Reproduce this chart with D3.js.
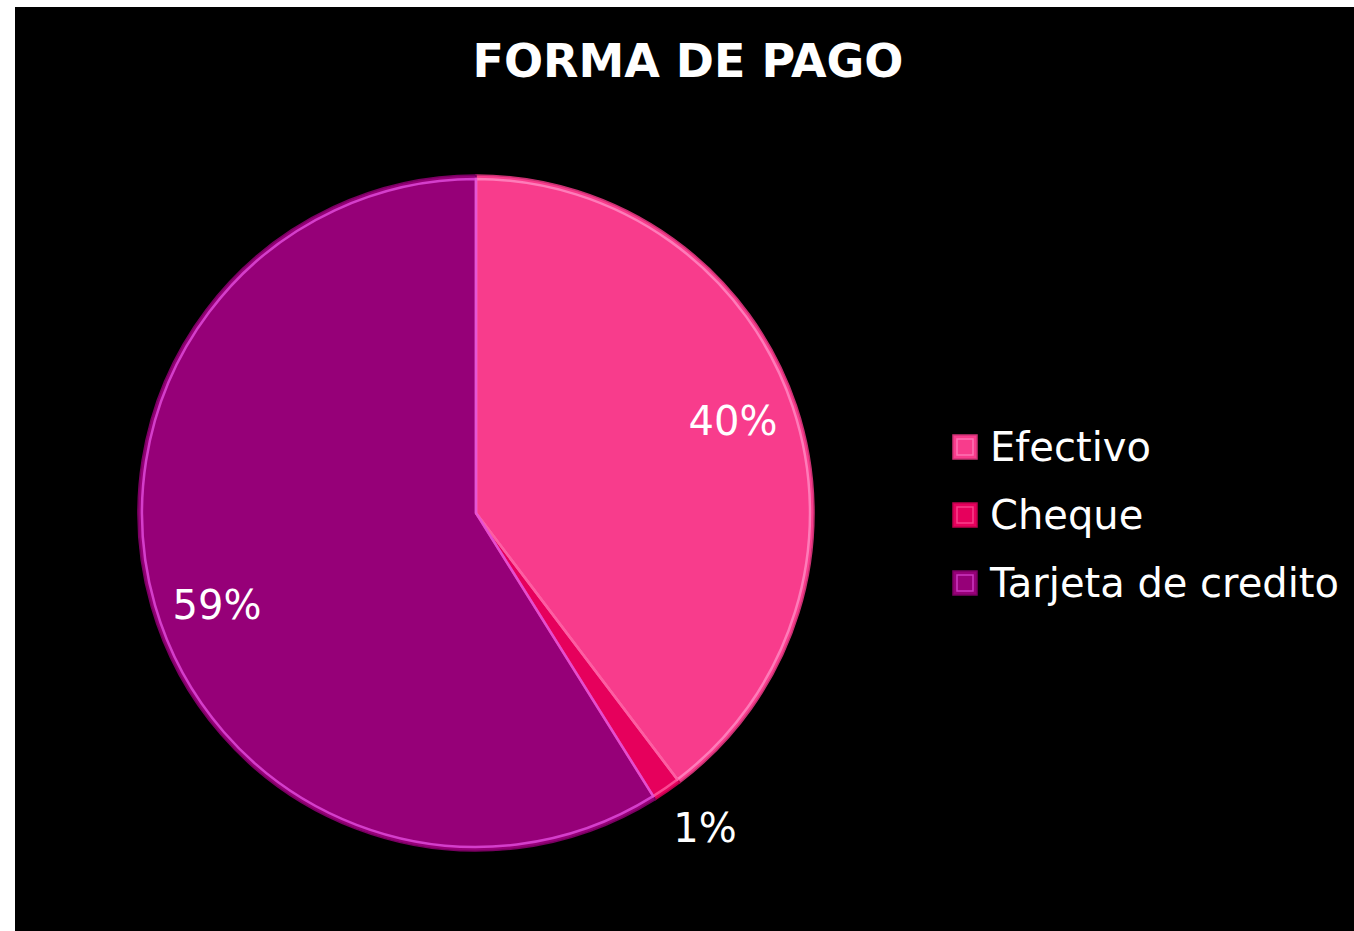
<!DOCTYPE html>
<html>
<head>
<meta charset="utf-8">
<script src="https://cdn.jsdelivr.net/npm/d3@7"></script>
<style>
  body { margin: 0; background: #ffffff; }
  text { font-family: "DejaVu Sans", sans-serif; }
</style>
</head>
<body>
<svg id="chart" width="1354" height="931"></svg>
<script>
const categories = ["Efectivo", "Cheque", "Tarjeta de credito"];
const values = [39.7, 1.4, 58.9];
const colors = ["#f83c8c", "#e6005c", "#960078"];
const lightColors = ["#ff8cc4", "#ff5aa0", "#e44ee0"];
const title = "FORMA DE PAGO";

const svg = d3.select("#chart");
const W = 1354, H = 931;

// black plot area
svg.append("rect")
    .attr("x", 15).attr("y", 7)
    .attr("width", W - 15).attr("height", H - 7)
    .attr("fill", "#000");

svg.append("text")
    .attr("x", 688).attr("y", 77)
    .attr("text-anchor", "middle")
    .attr("fill", "#fff")
    .attr("font-size", "46px")
    .attr("font-weight", "bold")
    .text(title);

const cx = 476, cy = 513, r = 338;
const g = svg.append("g").attr("transform", "translate(" + cx + "," + cy + ")");

const data = categories.map((c, i) => ({ name: c, value: values[i], i: i }));
const total = d3.sum(values);

const pie = d3.pie().value(d => d.value).sort(null);
const arcs = pie(data);
const arc = d3.arc().innerRadius(0).outerRadius(r);
const bevel = d3.arc().innerRadius(0).outerRadius(r - 4);

g.selectAll("path.slice")
    .data(arcs)
    .join("path")
    .attr("class", "slice")
    .attr("d", arc)
    .attr("fill", d => colors[d.data.i])
    .attr("stroke", d => d3.color(colors[d.data.i]).darker(0.6))
    .attr("stroke-width", 1.5);

// soft bevel highlight
g.selectAll("path.bevel")
    .data(arcs)
    .join("path")
    .attr("class", "bevel")
    .attr("d", bevel)
    .attr("fill", "none")
    .attr("stroke", d => lightColors[d.data.i])
    .attr("stroke-width", 2.5)
    .attr("stroke-opacity", 0.8);

// percentage labels (positions as in the original layout)
const labelPos = [
    { x: 733, y: 435 },
    { x: 705, y: 842 },
    { x: 217, y: 619 }
];
svg.selectAll("text.pct")
    .data(arcs)
    .join("text")
    .attr("class", "pct")
    .attr("x", d => labelPos[d.data.i].x)
    .attr("y", d => labelPos[d.data.i].y)
    .attr("text-anchor", "middle")
    .attr("fill", "#fff")
    .attr("font-size", "40px")
    .text(d => Math.round(d.data.value / total * 100) + "%");

// legend
const legend = svg.append("g").attr("transform", "translate(953,435)");
const ly = d3.scalePoint().domain(categories).range([0, 136]);
const item = legend.selectAll("g.item")
    .data(data)
    .join("g")
    .attr("class", "item")
    .attr("transform", d => "translate(0," + ly(d.name) + ")");

item.append("rect")
    .attr("width", 24).attr("height", 24)
    .attr("fill", d => colors[d.i])
    .attr("stroke", d => d3.color(colors[d.i]).darker(0.5))
    .attr("stroke-width", 1.5);
item.append("rect")
    .attr("x", 4).attr("y", 4)
    .attr("width", 16).attr("height", 16)
    .attr("fill", "none")
    .attr("stroke", d => lightColors[d.i])
    .attr("stroke-width", 1.5)
    .attr("stroke-opacity", 0.7);
item.append("text")
    .attr("x", 37).attr("y", 26)
    .attr("fill", "#fff")
    .attr("font-size", "40px")
    .text(d => d.name);
</script>
</body>
</html>
